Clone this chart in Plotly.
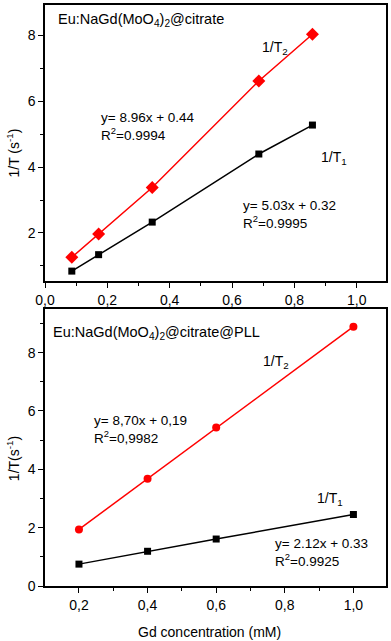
import plotly.graph_objects as go

# ---- data: top panel (Eu:NaGd(MoO4)2@citrate) ----
top_x = [0.086, 0.172, 0.344, 0.686, 0.858]
top_t1 = [0.84, 1.34, 2.33, 4.40, 5.28]
top_t2 = [1.26, 1.97, 3.38, 6.62, 8.04]

# ---- data: bottom panel (Eu:NaGd(MoO4)2@citrate@PLL) ----
bot_x = [0.2, 0.4, 0.6, 1.0]
bot_t1 = [0.75, 1.19, 1.61, 2.45]
bot_t2 = [1.94, 3.68, 5.43, 8.89]

# ---- tick labels ----
top_xticks = [0.0, 0.2, 0.4, 0.6, 0.8, 1.0]
top_xticktext = ["0,0", "0,2", "0,4", "0,6", "0,8", "1,0"]
top_yticks = [2, 4, 6, 8]
bot_xticks = [0.2, 0.4, 0.6, 0.8, 1.0]
bot_xticktext = ["0,2", "0,4", "0,6", "0,8", "1,0"]
bot_yticks = [0, 2, 4, 6, 8]

FONT = "Liberation Sans, Arial, sans-serif"
RED = "#ff0000"
BLACK = "#000000"

fig = go.Figure()

fig.add_trace(go.Scatter(x=top_x, y=top_t2, mode="lines+markers", xaxis="x", yaxis="y",
                         line=dict(color=RED, width=1.5),
                         marker=dict(symbol="diamond", size=10, color=RED), showlegend=False))
fig.add_trace(go.Scatter(x=top_x, y=top_t1, mode="lines+markers", xaxis="x", yaxis="y",
                         line=dict(color=BLACK, width=1.5),
                         marker=dict(symbol="square", size=7, color=BLACK), showlegend=False))
fig.add_trace(go.Scatter(x=bot_x, y=bot_t2, mode="lines+markers", xaxis="x2", yaxis="y2",
                         line=dict(color=RED, width=1.5),
                         marker=dict(symbol="circle", size=8, color=RED), showlegend=False))
fig.add_trace(go.Scatter(x=bot_x, y=bot_t1, mode="lines+markers", xaxis="x2", yaxis="y2",
                         line=dict(color=BLACK, width=1.5),
                         marker=dict(symbol="square", size=7, color=BLACK), showlegend=False))

axis_common = dict(showline=True, linecolor="black", linewidth=1.5, mirror=True,
                   ticks="outside", ticklen=5, tickwidth=1, tickcolor="black",
                   showgrid=False, zeroline=False,
                   tickfont=dict(family=FONT, size=14, color="black"))

fig.update_layout(
    width=391, height=641,
    margin=dict(l=45, r=5, t=3, b=55),
    plot_bgcolor="white", paper_bgcolor="white",
    font=dict(family=FONT, size=13, color="black"),
    xaxis=dict(domain=[0, 1], anchor="y", range=[0, 1.094], tickmode="array",
               tickvals=top_xticks, ticktext=top_xticktext,
               minor=dict(tickmode="linear", tick0=0, dtick=0.1, ticks="outside", ticklen=3, tickcolor="black"),
               **axis_common),
    yaxis=dict(domain=[0.525, 1.0], anchor="x", range=[0.54, 8.93], tickmode="array",
               tickvals=top_yticks,
               minor=dict(tickmode="linear", tick0=0, dtick=1, ticks="outside", ticklen=3, tickcolor="black"),
               **axis_common),
    xaxis2=dict(domain=[0, 1], anchor="y2", range=[0.101, 1.095], tickmode="array",
                tickvals=bot_xticks, ticktext=bot_xticktext,
                minor=dict(tickmode="linear", tick0=0, dtick=0.1, ticks="outside", ticklen=3, tickcolor="black"),
                **axis_common),
    yaxis2=dict(domain=[0, 0.477], anchor="x2", range=[0, 9.5], tickmode="array",
                tickvals=bot_yticks,
                minor=dict(tickmode="linear", tick0=0, dtick=1, ticks="outside", ticklen=3, tickcolor="black"),
                **axis_common),
)

def ann(text, x, y, xref, yref, size=13.5, **kw):
    fig.add_annotation(text=text, x=x, y=y, xref=xref, yref=yref, showarrow=False,
                       xanchor=kw.pop("xanchor", "left"), yanchor=kw.pop("yanchor", "middle"),
                       align="left", font=dict(family=FONT, size=size, color="black"), **kw)

# top panel annotations
ann("Eu:NaGd(MoO<sub>4</sub>)<sub>2</sub>@citrate", 0.036, 8.48, "x", "y", size=14.5)
ann("1/T<sub>2</sub>", 0.69, 7.62, "x", "y", size=14)
ann("y= 8.96x + 0.44<br>R<sup>2</sup>=0.9994", 0.172, 5.23, "x", "y")
ann("1/T<sub>1</sub>", 0.88, 4.28, "x", "y", size=14)
ann("y= 5.03x + 0.32<br>R<sup>2</sup>=0.9995", 0.628, 2.55, "x", "y")

# bottom panel annotations
ann("Eu:NaGd(MoO<sub>4</sub>)<sub>2</sub>@citrate@PLL", 0.118, 8.68, "x2", "y2", size=14.5)
ann("1/T<sub>2</sub>", 0.732, 7.69, "x2", "y2", size=14)
ann("y= 8,70x + 0,19<br>R<sup>2</sup>=0,9982", 0.238, 5.37, "x2", "y2")
ann("1/T<sub>1</sub>", 0.888, 2.97, "x2", "y2", size=14)
ann("y= 2.12x + 0.33<br>R<sup>2</sup>=0.9925", 0.767, 1.16, "x2", "y2")

# axis titles
ann("1/T (s<sup>-1</sup>)", -0.094, 0.746, "paper", "paper", size=14, xanchor="center", textangle=-90)
ann("1/T(s<sup>-1</sup>)", -0.094, 0.22, "paper", "paper", size=14, xanchor="center", textangle=-90)
ann("Gd concentration (mM)", 0.481, -0.079, "paper", "paper", size=14, xanchor="center")

fig.write_html("out.html", config={"displayModeBar": False})

# remove the default page margin so the figure fills the window exactly
with open("out.html", "r", encoding="utf-8") as f:
    html = f.read()
html = html.replace("<head>", "<head><style>html,body{margin:0;padding:0;overflow:hidden;}</style>", 1)
with open("out.html", "w", encoding="utf-8") as f:
    f.write(html)
